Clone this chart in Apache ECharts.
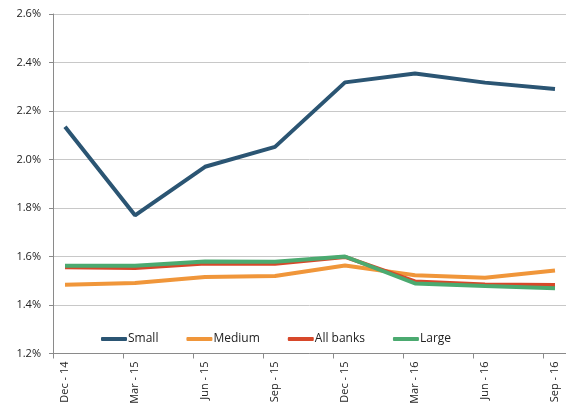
<!DOCTYPE html>
<html>
<head>
<meta charset="utf-8">
<script src="https://cdn.jsdelivr.net/npm/echarts@6/dist/echarts.min.js"></script>
<style>html,body{margin:0;padding:0;background:#fff}#c{width:566px;height:407px}</style>
</head>
<body>
<div id="c"></div>
<script>
var categories = ['Dec - 14','Mar - 15','Jun - 15','Sep - 15','Dec - 15','Mar - 16','Jun - 16','Sep - 16'];
var small    = [2.135, 1.770, 1.970, 2.052, 2.318, 2.355, 2.317, 2.291];
var medium   = [1.484, 1.491, 1.515, 1.520, 1.563, 1.523, 1.512, 1.542];
var allBanks = [1.556, 1.553, 1.571, 1.570, 1.598, 1.497, 1.485, 1.482];
var large    = [1.562, 1.562, 1.579, 1.578, 1.600, 1.489, 1.478, 1.469];
var seriesNames = ['Small','Medium','All banks','Large'];
var colors = ['#2B5573','#F0963A','#D7482A','#4BAA70'];
var yMin = 1.2, yMax = 2.6, yStep = 0.2;

var font = 'Open Sans, Noto Sans, sans-serif';
var chart = echarts.init(document.getElementById('c'), null, {renderer:'canvas'});
var dataSets = [small, medium, allBanks, large];
chart.setOption({
  animation: false,
  color: colors,
  grid: [
    {left: 53, right: 0, top: 14, bottom: 53.5},
    {left: 65, right: 11, top: 14, bottom: 53.5}
  ],
  legend: {
    data: seriesNames,
    left: 96, top: 328,
    icon: 'roundRect',
    itemWidth: 26, itemHeight: 4,
    itemGap: 28,
    textStyle: {fontFamily: font, fontSize: 12, color: '#222', padding: [0,0,0,-4]}
  },
  xAxis: [
    {gridIndex: 0, type: 'value', min: 0, max: 513/70, interval: 1,
     axisLine: {show: true, lineStyle: {color: '#8a8a8a', width: 1}},
     axisTick: {show: true, length: 5, lineStyle: {color: '#8a8a8a'}},
     axisLabel: {show: false}, splitLine: {show: false}},
    {gridIndex: 1, type: 'category', data: categories, boundaryGap: false,
     axisLine: {show: false}, axisTick: {show: false}, splitLine: {show: false},
     axisLabel: {rotate: 90, margin: 8, fontFamily: font, fontSize: 11, color: '#222', interval: 0}}
  ],
  yAxis: [
    {gridIndex: 0, type: 'value', min: yMin, max: yMax, interval: yStep,
     axisLine: {show: true, lineStyle: {color: '#8a8a8a', width: 1}},
     axisTick: {show: true, length: 4, lineStyle: {color: '#8a8a8a'}},
     splitLine: {show: true, lineStyle: {color: '#c8c8c8', width: 1}},
     axisLabel: {margin: 12, fontFamily: font, fontSize: 11, color: '#222',
       formatter: function(v){ return v.toFixed(1) + '%'; }}},
    {gridIndex: 1, type: 'value', min: yMin, max: yMax, interval: yStep, show: false}
  ],
  series: seriesNames.map(function(n, i){
    return {name: n, type: 'line', xAxisIndex: 1, yAxisIndex: 1, data: dataSets[i],
      symbol: 'none', lineStyle: {width: 4, color: colors[i]}, itemStyle: {color: colors[i]}};
  })
});
</script>
</body>
</html>
